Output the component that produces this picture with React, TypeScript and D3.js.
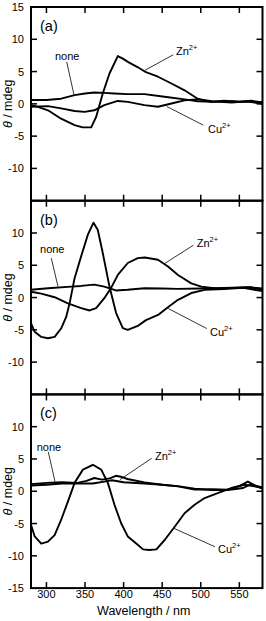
import * as d3 from 'd3';

// wavelength axis ticks and per-panel y tick labels
const xTicks = [300, 350, 400, 450, 500, 550];
const yTicks = [-10, -5, 0, 5, 10];
const yLabelsA = [15, 10, 5, 0, -5, -10];
const yLabelsB = [10, 5, 0, -5, -10];
const yLabelsC = [10, 5, 0, -5, -10, -15];

// panel (a)
const aZnWl = [280, 290, 302, 319, 336.5, 347, 358, 364.5, 373, 381.7, 392.5, 399, 405.5, 418, 429, 444.6, 462, 479, 496, 513.6, 530, 550, 565, 580];
const aZn = [-0.2, -0.5, -1.0, -2.3, -3.3, -3.65, -3.65, -2.0, 1.6, 4.7, 7.4, 7.0, 6.5, 5.7, 4.9, 4.2, 3.15, 2.1, 0.8, 0.3, 0.5, 0.3, 0.5, 0.2];
const aNoneWl = [280, 300, 319, 336.5, 350, 362, 375, 388, 405, 427, 453, 479, 496, 515, 540, 560, 580];
const aNone = [0.6, 0.6, 0.8, 1.35, 1.6, 1.75, 1.7, 1.6, 1.5, 1.5, 1.1, 0.7, 0.4, 0.3, 0.4, 0.3, 0.3];
const aCuWl = [280, 302, 319, 336.5, 349.4, 362, 375, 392.5, 405.5, 427, 444.6, 462, 479, 496, 515, 540, 560, 580];
const aCu = [-0.45, -0.35, -0.7, -1.1, -1.25, -1.0, -0.2, 0.45, 0.3, -0.2, -0.45, 0.05, 0.55, 0.7, 0.4, 0.2, 0.4, 0.0];

// panel (b)
const bCuWl = [280, 284.8, 293.3, 302, 310.6, 319, 325.6, 330, 336.5, 345, 353.7, 361, 366.5, 373, 381.7, 390.3, 399, 405.4, 418.3, 429, 444.6, 457.5, 470.5, 487.7, 505, 530, 555, 580];
const bCu = [-4.0, -5.3, -6.1, -6.3, -6.1, -4.8, -3.0, -0.9, 3.0, 6.4, 9.75, 11.6, 10.5, 6.9, 1.7, -2.4, -4.75, -5.0, -4.4, -3.5, -2.7, -1.5, -0.35, 0.7, 1.2, 1.3, 1.5, 1.0];
const bZnWl = [280, 293.3, 310.6, 327.8, 345, 356, 364.4, 375, 383.8, 392.5, 405.4, 418.3, 427.4, 444.6, 457.5, 470.5, 487.7, 500.7, 520, 545, 565, 580];
const bZn = [0.9, 0.6, 0.05, -0.9, -1.65, -2.0, -1.65, -0.1, 1.5, 3.5, 5.35, 6.1, 6.2, 5.85, 4.8, 3.5, 2.2, 1.7, 1.4, 1.5, 1.6, 1.2];
const bNoneWl = [280, 302, 332, 345, 362, 375, 390, 405, 427, 450, 470, 500, 530, 560, 580];
const bNone = [1.2, 1.45, 1.7, 1.8, 2.0, 1.7, 1.1, 1.2, 1.45, 1.4, 1.35, 1.4, 1.5, 1.6, 1.4];

// panel (c)
const cCuWl = [280, 284.8, 293.3, 302, 310.6, 319, 327.8, 336.5, 347.3, 360.2, 371, 379.6, 388.2, 396.8, 405.4, 418.3, 425.3, 433, 442.5, 453.2, 466.2, 479, 492, 505, 522, 539.5, 556.7, 569.6, 580];
const cCu = [-5.2, -7.0, -8.1, -7.8, -6.8, -4.45, -1.6, 1.3, 3.35, 4.1, 3.35, 1.3, -2.1, -4.95, -7.0, -8.3, -9.0, -9.1, -9.0, -7.55, -5.5, -3.4, -2.1, -1.05, -0.3, 0.5, 1.0, 0.75, 0.5];
const cZnWl = [280, 300, 320, 340, 352, 362, 372, 382, 390, 398, 405, 427, 450, 470.5, 492, 515, 535, 550, 561, 570, 580];
const cZn = [1.1, 1.3, 1.4, 1.3, 1.6, 2.05, 1.8, 2.0, 2.4, 2.2, 1.9, 1.37, 1.0, 0.75, 0.25, 0.3, 0.25, 0.8, 1.5, 0.9, 0.6];
const cNoneWl = [280, 300, 320, 340, 360, 375, 385, 400, 427, 450, 470, 492, 515, 535, 555, 565, 580];
const cNone = [0.9, 1.0, 1.2, 1.2, 1.2, 1.5, 1.7, 1.4, 1.2, 1.0, 0.8, 0.4, 0.2, 0.2, 0.5, 1.1, 0.4];

// annotations: [name, sup, text wl, text value, leader from wl, from value, to wl, to value]
type Note = [string, string, number, number, number, number, number, number];
const aNotes: Note[] = [
  ['none', '', 311, 6.8, 326.3, 6.5, 335.7, 1.4],
  ['Zn', '2+', 467.9, 7.5, 464.4, 7.6, 427.7, 5.2],
  ['Cu', '2+', 509.4, -4.5, 503.3, -3.3, 455.8, -0.4],
];
const bNotes: Note[] = [
  ['none', '', 291.7, 6.85, 306.3, 6.1, 315, 1.7],
  ['Zn', '2+', 494.7, 7.8, 490.3, 8.1, 453.6, 5.3],
  ['Cu', '2+', 512, -5.9, 507.7, -4.8, 457.9, -1.7],
];
const cNotes: Note[] = [
  ['none', '', 287.4, 6.3, 302.4, 6.1, 311.1, 1.5],
  ['Zn', '2+', 440.7, 4.9, 436.4, 5.1, 395.3, 1.8],
  ['Cu', '2+', 522.3, -9.6, 518.4, -8.6, 464.4, -5.7],
];

const panels = [
  { tag: '(a)', yLabels: yLabelsA, series: [[aZnWl, aZn], [aNoneWl, aNone], [aCuWl, aCu]], notes: aNotes },
  { tag: '(b)', yLabels: yLabelsB, series: [[bCuWl, bCu], [bZnWl, bZn], [bNoneWl, bNone]], notes: bNotes },
  { tag: '(c)', yLabels: yLabelsC, series: [[cCuWl, cCu], [cZnWl, cZn], [cNoneWl, cNone]], notes: cNotes },
];

const W = 266;
const H = 621;
const left = 31;
const right = 262.5;
const top = 7;
const panelH = 193.7;
const font = '"Liberation Sans", Arial, sans-serif';

const x = d3.scaleLinear().domain([280, 580]).range([left, right]);

const Panel = ({ p, i }: { p: (typeof panels)[number]; i: number }) => {
  const y0 = top + i * panelH;
  const y = d3.scaleLinear().domain([-15, 15]).range([y0 + panelH, y0]);
  const line = d3
    .line<[number, number]>()
    .x((d) => x(d[0]))
    .y((d) => y(d[1]));
  const tl = 6;
  return (
    <g>
      {p.series.map(([wl, v], k) => (
        <path
          key={k}
          d={line(wl.map((w, j) => [w, v[j]] as [number, number])) || ''}
          fill="none"
          stroke="#000"
          strokeWidth={1.9}
          strokeLinejoin="round"
        />
      ))}
      {xTicks.map((t) => (
        <g key={t}>
          <line x1={x(t)} x2={x(t)} y1={y0} y2={y0 + tl} stroke="#000" strokeWidth={1.5} />
          <line x1={x(t)} x2={x(t)} y1={y0 + panelH} y2={y0 + panelH - tl} stroke="#000" strokeWidth={1.5} />
        </g>
      ))}
      {yTicks.map((t) => (
        <g key={t}>
          <line x1={left} x2={left + tl} y1={y(t)} y2={y(t)} stroke="#000" strokeWidth={1.5} />
          <line x1={right} x2={right - tl} y1={y(t)} y2={y(t)} stroke="#000" strokeWidth={1.5} />
        </g>
      ))}
      {p.yLabels.map((t) => (
        <text key={t} x={left - 7} y={y(t) + 4} textAnchor="end" fontSize={11} fontFamily={font} fill="#000">
          {t}
        </text>
      ))}
      <rect x={left} y={y0} width={right - left} height={panelH} fill="none" stroke="#000" strokeWidth={2} />
      <text x={left + 9} y={y0 + 24} fontSize={14.5} fontFamily={font} fill="#000">
        {p.tag}
      </text>
      {p.notes.map((n) => (
        <g key={n[0]}>
          <line x1={x(n[4])} y1={y(n[5])} x2={x(n[6])} y2={y(n[7])} stroke="#000" strokeWidth={0.8} />
          <text x={x(n[2])} y={y(n[3])} fontSize={11} fontFamily={font} fill="#000">
            {n[0]}
            {n[1] && (
              <tspan fontSize={7.5} dy={-5}>
                {n[1]}
              </tspan>
            )}
          </text>
        </g>
      ))}
      <text
        transform={`translate(12,${y0 + panelH / 2}) rotate(-90)`}
        textAnchor="middle"
        fontSize={12.5}
        fontFamily={font}
        fill="#000"
      >
        <tspan fontStyle="italic">θ</tspan> / mdeg
      </text>
    </g>
  );
};

export default function App() {
  const yBottom = top + 3 * panelH;
  return (
    <svg width={W} height={H} style={{ position: 'absolute', left: 0, top: 0, background: '#fff' }}>
      <rect width={W} height={H} fill="#fff" />
      {panels.map((p, i) => (
        <Panel key={p.tag} p={p} i={i} />
      ))}
      {xTicks.map((t) => (
        <text key={t} x={x(t)} y={yBottom + 10} textAnchor="middle" fontSize={11} fontFamily={font} fill="#000">
          {t}
        </text>
      ))}
      <text x={(left + right) / 2 - 3} y={yBottom + 27} textAnchor="middle" fontSize={12.5} fontFamily={font} fill="#000">
        Wavelength / nm
      </text>
    </svg>
  );
}
